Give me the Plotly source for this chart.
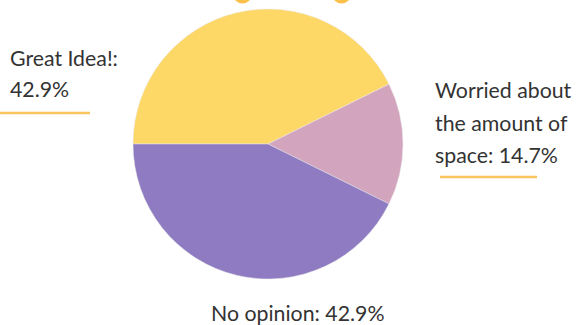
import plotly.graph_objects as go

labels = ["Great Idea!", "Worried about the amount of space", "No opinion"]
values = [42.9, 14.7, 42.9]
colors = ["#FED866", "#D3A4BD", "#8E7BC2"]
label_lines = [
    ["Great Idea!:", "42.9%"],
    ["Worried about", "the amount of", "space: 14.7%"],
    ["No opinion: 42.9%"],
]

W, H = 576, 325

fig = go.Figure(go.Pie(
    labels=labels,
    values=values,
    sort=False,
    direction="clockwise",
    rotation=270,
    marker=dict(colors=colors, line=dict(color="#e6e6e6", width=0.5)),
    textinfo="none",
    hoverinfo="label+percent",
    showlegend=False,
    domain=dict(x=[133 / W, 403 / W], y=[(H - 279) / H, (H - 9) / H]),
))

font = dict(family="Lato, sans-serif", size=21.3, color="#333333")

# label positions (px): x, anchor, list of y centers per line
label_pos = [
    (8, "left", [58, 89]),
    (433, "left", [90, 123, 155]),
    (297, "center", [313]),
]
anns = []
for lines, (px, anchor, ys) in zip(label_lines, label_pos):
    for line, py in zip(lines, ys):
        anns.append(dict(
            x=px / W, y=1 - py / H, xref="paper", yref="paper",
            text=line, showarrow=False, xanchor=anchor, yanchor="middle",
            font=font,
        ))

line_color = "#F9C55E"
shapes = [
    dict(type="line", xref="paper", yref="paper", x0=0, x1=90 / W,
         y0=1 - 113 / H, y1=1 - 113 / H, line=dict(color=line_color, width=2.5)),
    dict(type="line", xref="paper", yref="paper", x0=440 / W, x1=537 / W,
         y0=1 - 177 / H, y1=1 - 177 / H, line=dict(color=line_color, width=2.5)),
]
for cx in (242.5, 341.5):
    shapes.append(dict(type="circle", xref="paper", yref="paper",
                       x0=(cx - 9.5) / W, x1=(cx + 9.5) / W,
                       y0=1 - 3.5 / H, y1=1 + 15.5 / H,
                       fillcolor="#FBC04C", line=dict(width=0)))

fig.update_layout(
    width=W, height=H,
    margin=dict(l=0, r=0, t=0, b=0),
    paper_bgcolor="white",
    plot_bgcolor="white",
    annotations=anns,
    shapes=shapes,
)

fig.write_html("out.html")
